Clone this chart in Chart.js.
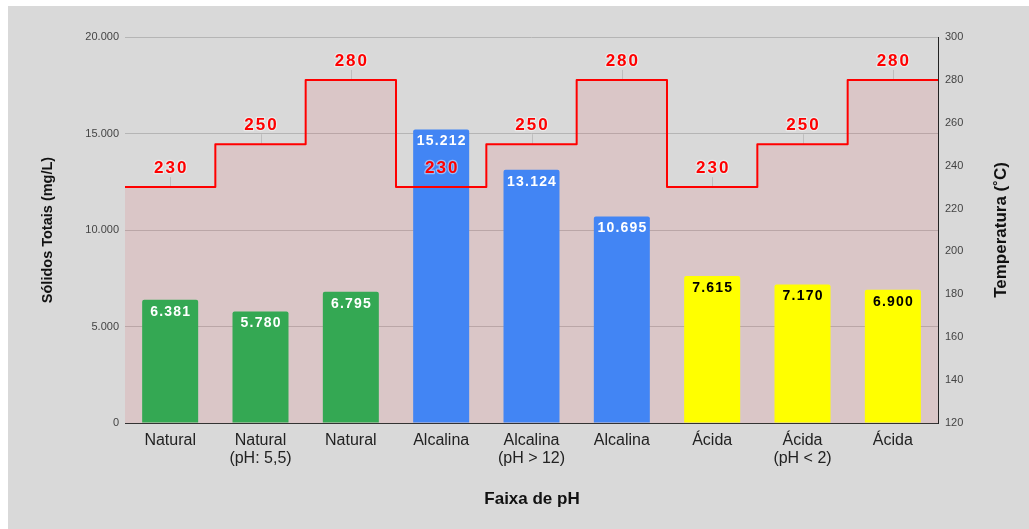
<!DOCTYPE html>
<html lang="pt-BR">
<head>
  <meta charset="UTF-8" />
  <title>Sólidos Totais x Temperatura</title>
  <script src="https://cdn.jsdelivr.net/npm/chart.js"></script>
  <style>
    body {
      margin: 0;
      background: #ffffff;
      font-family: Arial, 'Liberation Sans', sans-serif;
    }

    .panel {
      position: absolute;
      left: 8px;
      top: 6px;
      width: 1021px;
      height: 523px;
      background: #d9d9d9;
    }
  </style>
</head>
<body>
  <div class="panel">
    <canvas id="phChart"></canvas>
  </div>

  <script>
    const categories = [
      'Natural', ['Natural', '(pH: 5,5)'], 'Natural',
      'Alcalina', ['Alcalina', '(pH > 12)'], 'Alcalina',
      'Ácida', ['Ácida', '(pH < 2)'], 'Ácida'
    ];
    const solids = [6381, 5780, 6795, 15212, 13124, 10695, 7615, 7170, 6900];
    const temperatures = [230, 250, 280, 230, 250, 280, 230, 250, 280];
    const barColors = ['#34a853', '#34a853', '#34a853', '#4285f4', '#4285f4', '#4285f4', '#ffff00', '#ffff00', '#ffff00'];
    const labelColors = ['#fff', '#fff', '#fff', '#fff', '#fff', '#fff', '#000', '#000', '#000'];

    const FONT = "Arial, 'Liberation Sans', sans-serif";

    // 20000 -> "20.000"
    function fmt(v) {
      return String(v).replace(/\B(?=(\d{3})+(?!\d))/g, '.');
    }

    // step line: one point per band edge, last value held to the right edge
    const stepPoints = temperatures.map((t, i) => ({ x: i, y: t }));
    stepPoints.push({ x: temperatures.length, y: temperatures[temperatures.length - 1] });

    const labelsPlugin = {
      id: 'labels',
      beforeDatasetsDraw(chart) {
        const ctx = chart.ctx;
        const x = chart.scales.x;
        const yT = chart.scales.yT;
        ctx.save();
        ctx.strokeStyle = 'rgba(0,0,0,0.12)';
        ctx.lineWidth = 1;
        temperatures.forEach((t, i) => {
          const px = Math.round(x.getPixelForValue(i)) + 0.5;
          const py = yT.getPixelForValue(t);
          ctx.beginPath();
          ctx.moveTo(px, py - 10);
          ctx.lineTo(px, py);
          ctx.stroke();
        });
        ctx.restore();
      },
      afterDatasetsDraw(chart) {
        const ctx = chart.ctx;
        const x = chart.scales.x;
        const yT = chart.scales.yT;
        const bars = chart.getDatasetMeta(0).data;
        ctx.save();
        ctx.textAlign = 'center';
        ctx.textBaseline = 'middle';

        // values inside the bars
        ctx.font = 'bold 14px ' + FONT;
        ctx.letterSpacing = '1.2px';
        bars.forEach((bar, i) => {
          ctx.fillStyle = labelColors[i];
          ctx.fillText(fmt(solids[i]), bar.x + 0.6, bar.y + 12);
        });

        // temperature labels above the step line
        ctx.font = 'bold 17px ' + FONT;
        ctx.letterSpacing = '2px';
        ctx.lineJoin = 'round';
        temperatures.forEach((t, i) => {
          const px = x.getPixelForValue(i) + 1;
          const py = yT.getPixelForValue(t) - 18.5;
          ctx.strokeStyle = 'rgba(255,255,255,0.45)';
          ctx.lineWidth = 2.5;
          ctx.strokeText(String(t), px, py);
          ctx.fillStyle = '#ff0000';
          ctx.fillText(String(t), px, py);
        });
        ctx.restore();
      },
      afterDraw(chart) {
        const ctx = chart.ctx;
        const area = chart.chartArea;
        const midY = (area.top + area.bottom) / 2;
        ctx.save();
        ctx.fillStyle = '#111';
        ctx.textAlign = 'center';
        ctx.textBaseline = 'middle';

        ctx.font = 'bold 17px ' + FONT;
        ctx.fillText('Faixa de pH', 524, 493);

        ctx.save();
        ctx.translate(40, midY);
        ctx.rotate(-Math.PI / 2);
        ctx.font = 'bold 14.5px ' + FONT;
        ctx.fillText('Sólidos Totais (mg/L)', 0, 0);
        ctx.restore();

        ctx.save();
        ctx.translate(993, midY);
        ctx.rotate(-Math.PI / 2);
        ctx.font = 'bold 17px ' + FONT;
        ctx.fillText('Temperatura (˚C)', 0, 0);
        ctx.restore();

        ctx.restore();
      }
    };

    new Chart(document.getElementById('phChart'), {
      type: 'bar',
      data: {
        labels: categories,
        datasets: [
          {
            type: 'bar',
            data: solids,
            backgroundColor: barColors,
            borderRadius: { topLeft: 2, topRight: 2 },
            borderSkipped: 'bottom',
            grouped: false,
            barPercentage: 0.62,
            categoryPercentage: 1,
            yAxisID: 'y',
            xAxisID: 'x',
            order: 1
          },
          {
            type: 'line',
            data: stepPoints,
            stepped: 'before',
            borderColor: '#ff0000',
            borderWidth: 2,
            borderJoinStyle: 'round',
            backgroundColor: 'rgba(235, 40, 50, 0.1)',
            fill: 'start',
            pointRadius: 0,
            yAxisID: 'yT',
            xAxisID: 'xs',
            order: 0
          }
        ]
      },
      options: {
        responsive: true,
        maintainAspectRatio: false,
        animation: false,
        layout: { padding: { top: 31, left: 0, right: 0, bottom: 0 } },
        plugins: {
          legend: { display: false },
          tooltip: { enabled: false },
          filler: { drawTime: 'beforeDatasetsDraw' }
        },
        scales: {
          x: {
            position: 'bottom',
            grid: { display: false, drawTicks: false },
            border: { display: true, color: '#333', width: 1 },
            ticks: {
              color: '#222',
              padding: 8,
              maxRotation: 0,
              autoSkip: false,
              font: { family: FONT, size: 16, lineHeight: 1.15 }
            },
            afterFit(scale) { scale.height = 106; }
          },
          xs: {
            type: 'linear',
            display: false,
            offset: false,
            grid: { offset: false },
            min: 0,
            max: temperatures.length
          },
          y: {
            position: 'left',
            min: 0,
            max: 20000,
            grid: { color: '#b5b5b5', drawTicks: false },
            border: { display: false },
            ticks: {
              stepSize: 5000,
              padding: 6,
              color: '#444',
              font: { family: FONT, size: 11 },
              callback: v => fmt(v)
            },
            afterFit(scale) { scale.width = 117; }
          },
          yT: {
            position: 'right',
            min: 120,
            max: 300,
            grid: { display: false, drawTicks: false },
            border: { display: true, color: '#222', width: 1 },
            ticks: {
              stepSize: 20,
              padding: 7,
              color: '#444',
              font: { family: FONT, size: 11 }
            },
            afterFit(scale) { scale.width = 91; }
          }
        }
      },
      plugins: [labelsPlugin]
    });
  </script>
</body>
</html>
